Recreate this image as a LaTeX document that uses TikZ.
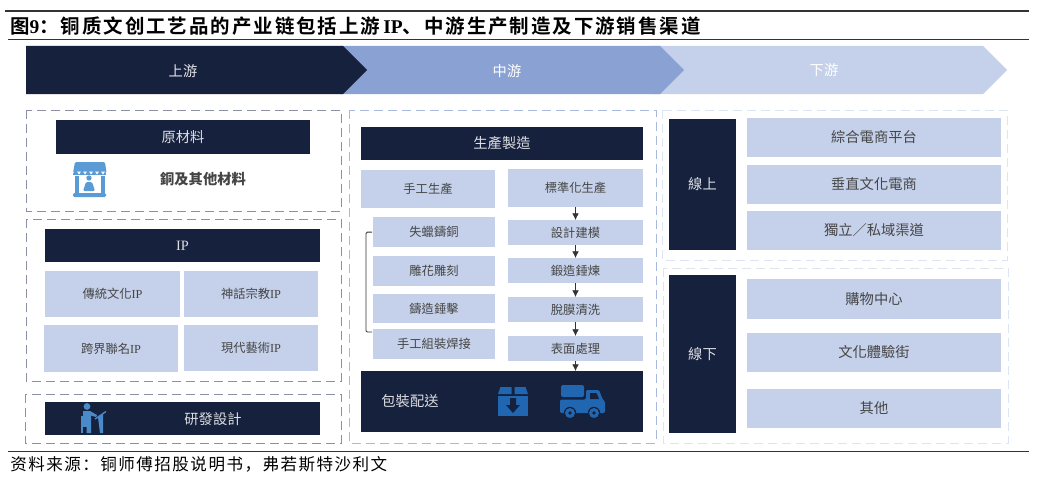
\documentclass[tikz,border=0pt]{standalone}
\usepackage{fontspec}
\setmainfont{Noto Sans CJK TC}
\newfontfamily\titlecjk{Noto Sans CJK SC}[BoldFont={* Bold}]
\newfontfamily\lat{Liberation Serif}
\definecolor{navy}{HTML}{16213D}
\definecolor{midblue}{HTML}{8AA2D3}
\definecolor{pale}{HTML}{C5D1EA}
\definecolor{ink}{HTML}{454545}
\definecolor{rulec}{HTML}{333333}
\definecolor{dashgrey}{HTML}{8B91A3}
\definecolor{dashblue}{HTML}{A9B9DD}
\definecolor{dashpale}{HTML}{DDE4F3}
\definecolor{icona}{HTML}{5B9BD5}
\definecolor{iconb}{HTML}{2066B0}
\definecolor{iconc}{HTML}{4A8AC9}
\usetikzlibrary{arrows.meta}
\tikzset{
  x=0.75pt,y=-0.75pt,
  base/.style={inner sep=0pt,outer sep=0pt,font=\fontsize{10.7pt}{12pt}\selectfont},
  darkbox/.style={base,fill=navy,text=white!85!navy},
  palebox/.style={base,fill=pale,text=ink},
  cellbox/.style={palebox,font=\fontsize{9.2pt}{11pt}\selectfont},
  label/.style={base,text=ink},
  framegrey/.style={draw=dashgrey,line width=0.75pt,dash pattern=on 6.5pt off 4pt},
  frameblue/.style={draw=dashblue,line width=0.75pt,dash pattern=on 6.5pt off 4pt},
  framepale/.style={draw=dashpale,line width=0.75pt,dash pattern=on 6.5pt off 4pt},
  rulestyle/.style={draw=rulec,line width=0.8pt},
  arr/.style={draw=rulec,line width=0.5pt,-{Latex[length=5pt,width=5pt]}},
  brace/.style={draw=rulec,line width=0.7pt},
}
\newcommand{\pxbox}[7]{% name, style, x1, y1, x2, y2, text
  \pgfmathsetmacro{\pxw}{(#5-#3)*0.75}%
  \pgfmathsetmacro{\pxh}{(#6-#4)*0.75}%
  \pgfmathsetmacro{\pxx}{(#3+#5)/2}%
  \pgfmathsetmacro{\pxy}{(#4+#6)/2}%
  \node[#2,minimum width=\pxw pt,minimum height=\pxh pt] (#1) at (\pxx,\pxy) {#7};}
\begin{document}
\begin{tikzpicture}
\useasboundingbox (0,0) rectangle (1037,478);
\fill[white] (0,0) rectangle (1037,478);
% rules
\coordinate (r1a) at (5,11); \coordinate (r1b) at (1029,11);
\coordinate (r2a) at (8,39.5); \coordinate (r2b) at (1029,39.5);
\coordinate (r3a) at (8,451.5); \coordinate (r3b) at (1029,451.5);
\draw[rulestyle,line width=1.1pt] (r1a) -- (r1b);
\draw[rulestyle] (r2a) -- (r2b);
\draw[rulestyle] (r3a) -- (r3b);
\node[anchor=west,inner sep=0pt,text=black,font=\fontsize{14.6pt}{16pt}\selectfont\titlecjk\bfseries\addfontfeature{LetterSpace=10}] (title) at (10,26)
  {图{\lat\bfseries 9}：铜质文创工艺品的产业链包括上游\,{\lat\bfseries IP}、中游生产制造及下游销售渠道};
\node[anchor=west,inner sep=0pt,text=black,font=\fontsize{12.4pt}{14pt}\selectfont\titlecjk\addfontfeature{LetterSpace=9}] (source) at (10,464)
  {资料来源：铜师傅招股说明书，弗若斯特沙利文};
% chevrons
\fill[pale] (650,46) -- (983,46) -- (1007,70) -- (983,94) -- (650,94) -- cycle;
\fill[midblue] (340,46) -- (660,46) -- (684,70) -- (660,94) -- (340,94) -- cycle;
\fill[navy] (26,46) -- (343,46) -- (367,70) -- (343,94) -- (26,94) -- cycle;
\node[base,text=white!88!navy] (up) at (183,71) {上游};
\node[base,text=white] (mid) at (507,71) {中游};
\node[base,text=white] (down) at (824,70) {下游};
% frames
\draw[framegrey] (26,110) rectangle (341,211);
\draw[framegrey] (26,219) rectangle (341,381);
\draw[framegrey] (25,394) rectangle (341,443);
\draw[frameblue] (349,110) rectangle (656,443);
\draw[framepale] (662,110) rectangle (1007,260);
\draw[framepale] (663,268) rectangle (1008,443);
% left column
\pxbox{raw}{darkbox}{56}{120}{310}{154}{原材料}
\node[label,font=\fontsize{10.7pt}{12pt}\selectfont\bfseries] (copper) at (203,179) {銅及其他材料};
\pxbox{ip}{darkbox}{45}{229}{320}{262}{\lat IP}
\pxbox{ipa}{cellbox}{45}{271}{180}{317}{傳統文化{\lat IP}}
\pxbox{ipb}{cellbox}{184}{271}{318}{317}{神話宗教{\lat IP}}
\pxbox{ipc}{cellbox}{44}{325}{178}{372}{跨界聯名{\lat IP}}
\pxbox{ipd}{cellbox}{184}{325}{318}{371}{現代藝術{\lat IP}}
\pxbox{rnd}{darkbox}{45}{402}{320}{435}{}
\node[base,text=white!85!navy] (rndt) at (213,419) {研發設計};
% store icon
\fill[icona,rounded corners=1pt] (75,162) -- (105,162) -- (106.5,173) -- (73,173) -- cycle;
\foreach \sx in {73,79.5,86,92.5,99}{\fill[icona] (\sx,172.5) rectangle (\sx+7,174.5);}
\foreach \sx in {76,82,88,94,100}{\fill[white] (\sx+1,171.5) -- (\sx+5,171.5) -- (\sx+3,174.5) -- cycle;}
\fill[icona] (75,176) rectangle (79,194);
\fill[icona] (101,176) rectangle (105,194);
\fill[icona,rounded corners=1pt] (73,193) rectangle (106,197);
\fill[icona] (89,178) circle (2.7);
\fill[icona,rounded corners=1pt] (83,191) -- (86,182) -- (92,182) -- (95,191) -- cycle;
% researcher icon
\fill[iconc] (87,406.5) circle (3.4);
\fill[iconc] (83,411) -- (90,411) -- (97,415) -- (96,417) -- (91,415.5) -- (91,433) -- (86.5,433) -- (86.5,424) -- (83,424) -- cycle;
\fill[iconc] (81,416) rectangle (82.5,433);
\fill[iconc] (81,424) rectangle (87,426.5);
\draw[iconc,line width=1pt] (95,419) -- (106,411.5);
\fill[iconc] (98,417.5) -- (103,414) -- (103,433) -- (100,433) -- cycle;
% middle column
\pxbox{make}{darkbox}{361}{127}{643}{160}{生產製造}
\pxbox{hand}{cellbox}{361}{170}{495}{208}{手工生產}
\pxbox{std}{cellbox}{508}{169}{643}{207}{標準化生產}
\pxbox{ha}{cellbox}{373}{217}{495}{247}{失蠟鑄銅}
\pxbox{hb}{cellbox}{373}{256}{495}{286}{雕花雕刻}
\pxbox{hc}{cellbox}{373}{294}{495}{323}{鑄造錘擊}
\pxbox{hd}{cellbox}{373}{329}{495}{359}{手工組裝焊接}
\pxbox{sa}{cellbox}{508}{220}{643}{245}{設計建模}
\pxbox{sb}{cellbox}{508}{258}{643}{283}{鍛造錘煉}
\pxbox{sc}{cellbox}{508}{297}{643}{322}{脫膜清洗}
\pxbox{sd}{cellbox}{508}{336}{643}{361}{表面處理}
\pxbox{pack}{darkbox}{361}{371}{643}{432}{}
\node[base,text=white!85!navy] (packt) at (410,401.5) {包裝配送};
\draw[arr] (std) -- (sa);
\draw[arr] (sa) -- (sb);
\draw[arr] (sb) -- (sc);
\draw[arr] (sc) -- (sd);
\draw[arr] (sd.south) -- (sd.south |- pack.north);
\coordinate (bra) at ([yshift=-0.1pt]ha.west);
\coordinate (brb) at ([yshift=9pt]hd.west);
\draw[brace,rounded corners=1pt] ([xshift=-0.75pt]bra) -- ++(-4.5pt,0) |- ([xshift=-0.75pt]brb);
% box icon
\fill[iconb] (500.5,387) -- (511.5,387) -- (511.5,394) -- (498,394) -- cycle;
\fill[iconb] (514.5,387) -- (525.5,387) -- (528,394) -- (514.5,394) -- cycle;
\fill[iconb] (498,395.5) rectangle (528,416);
\fill[navy] (510,398) -- (516,398) -- (516,405) -- (520,405) -- (513,413) -- (506,405) -- (510,405) -- cycle;
% truck icon
\fill[iconb,rounded corners=1.5pt] (561,385) rectangle (584,397);
\fill[iconb,rounded corners=1pt] (560,413) -- (560,399.5) -- (586,399.5) -- (586,390) -- (599,390) -- (603,400) -- (605,401) -- (605,413) -- cycle;
\fill[navy] (590,393) -- (596.5,393) -- (599,399) -- (590,399) -- cycle;
\foreach \wx in {570,594}{
  \fill[navy] (\wx,413) circle (6.2);
  \fill[iconb] (\wx,413) circle (5);
  \fill[navy] (\wx,413) circle (1.8);
}
% right column
\pxbox{on}{darkbox}{669}{119}{736}{250}{線上}
\pxbox{ona}{palebox}{747}{118}{1001}{157}{綜合電商平台}
\pxbox{onb}{palebox}{747}{165}{1001}{204}{垂直文化電商}
\pxbox{onc}{palebox}{747}{211}{1001}{250}{獨立／私域渠道}
\pxbox{off}{darkbox}{669}{275}{736}{433}{線下}
\pxbox{offa}{palebox}{747}{279}{1001}{319}{購物中心}
\pxbox{offb}{palebox}{747}{333}{1001}{372}{文化體驗街}
\pxbox{offc}{palebox}{747}{389}{1001}{428}{其他}
\end{tikzpicture}
\end{document}
